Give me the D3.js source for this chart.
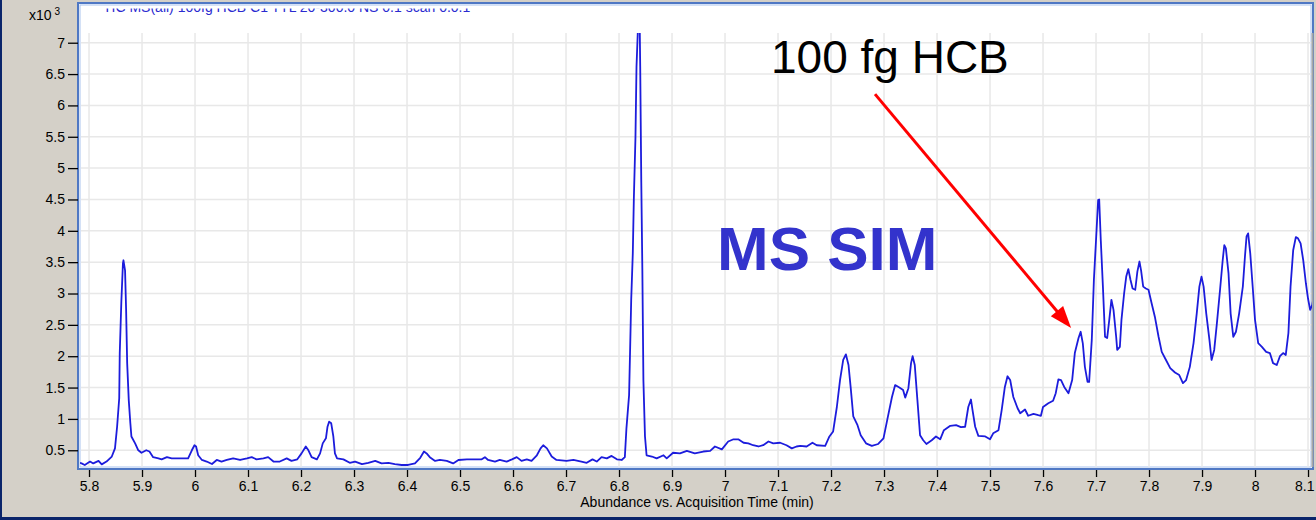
<!DOCTYPE html>
<html>
<head>
<meta charset="utf-8">
<script src="https://cdnjs.cloudflare.com/ajax/libs/d3/7.8.5/d3.min.js"></script>
<style>
	html, body { margin: 0; padding: 0; background: #d4d0c8; }
	svg { display: block; }
	.tick text { font-family: "Liberation Sans", Arial, sans-serif; font-size: 14px; fill: #000; }
</style>
</head>
<body>
<div id="visualization"></div>
<script>
// ==================================================
// GLOBALS
// ==================================================

// Tick Values
var xTicks = [5.8, 5.9, 6, 6.1, 6.2, 6.3, 6.4, 6.5, 6.6, 6.7, 6.8, 6.9, 7,
			  7.1, 7.2, 7.3, 7.4, 7.5, 7.6, 7.7, 7.8, 7.9, 8, 8.1];
var yTicks = [0.5, 1, 1.5, 2, 2.5, 3, 3.5, 4, 4.5, 5, 5.5, 6, 6.5, 7];

// Trace: Acquisition Time (min)
var retentionTime = [
	5.783, 5.786, 5.792, 5.802, 5.808, 5.818, 5.824, 5.833, 5.843, 5.849,
	5.853, 5.857, 5.858, 5.861, 5.864, 5.865, 5.868, 5.870, 5.872, 5.875,
	5.878, 5.880, 5.887, 5.893, 5.899, 5.908, 5.914, 5.921, 5.931, 5.937,
	5.947, 5.956, 5.972, 5.987, 5.994, 5.999, 6.002, 6.006, 6.013, 6.022,
	6.032, 6.041, 6.050, 6.060, 6.072, 6.085, 6.098, 6.107, 6.116, 6.129,
	6.138, 6.148, 6.160, 6.173, 6.182, 6.193, 6.201, 6.209, 6.214, 6.220,
	6.230, 6.236, 6.241, 6.247, 6.250, 6.253, 6.257, 6.261, 6.264, 6.268,
	6.280, 6.292, 6.302, 6.315, 6.327, 6.340, 6.352, 6.365, 6.377, 6.390,
	6.402, 6.415, 6.425, 6.432, 6.437, 6.443, 6.453, 6.462, 6.475, 6.487,
	6.497, 6.513, 6.541, 6.547, 6.553, 6.566, 6.575, 6.588, 6.598, 6.607,
	6.616, 6.626, 6.635, 6.645, 6.652, 6.657, 6.664, 6.673, 6.682, 6.701,
	6.714, 6.729, 6.739, 6.750, 6.758, 6.767, 6.777, 6.786, 6.796, 6.805,
	6.811, 6.814, 6.819, 6.821, 6.823, 6.826, 6.828, 6.831, 6.833, 6.836,
	6.839, 6.840, 6.842, 6.844, 6.846, 6.849, 6.852, 6.862, 6.871, 6.884,
	6.890, 6.902, 6.915, 6.928, 6.943, 6.959, 6.972, 6.981, 6.994, 7.006,
	7.016, 7.025, 7.035, 7.044, 7.053, 7.063, 7.072, 7.082, 7.091, 7.104,
	7.116, 7.126, 7.135, 7.142, 7.154, 7.165, 7.173, 7.189, 7.197, 7.204,
	7.211, 7.217, 7.223, 7.228, 7.233, 7.237, 7.242, 7.250, 7.256, 7.266,
	7.277, 7.289, 7.299, 7.306, 7.315, 7.321, 7.329, 7.336, 7.340, 7.346,
	7.351, 7.354, 7.358, 7.363, 7.368, 7.374, 7.380, 7.390, 7.398, 7.406,
	7.413, 7.425, 7.436, 7.445, 7.453, 7.459, 7.464, 7.467, 7.472, 7.478,
	7.491, 7.500, 7.506, 7.516, 7.522, 7.528, 7.533, 7.538, 7.544, 7.552,
	7.557, 7.566, 7.572, 7.582, 7.591, 7.596, 7.600, 7.610, 7.619, 7.624,
	7.629, 7.634, 7.640, 7.648, 7.655, 7.660, 7.667, 7.671, 7.675, 7.679,
	7.684, 7.687, 7.692, 7.696, 7.700, 7.704, 7.706, 7.709, 7.713, 7.717,
	7.721, 7.725, 7.729, 7.733, 7.738, 7.740, 7.745, 7.748, 7.753, 7.757,
	7.761, 7.765, 7.769, 7.774, 7.778, 7.782, 7.785, 7.789, 7.794, 7.799,
	7.805, 7.811, 7.818, 7.824, 7.832, 7.840, 7.849, 7.857, 7.864, 7.870,
	7.877, 7.884, 7.890, 7.895, 7.899, 7.903, 7.908, 7.914, 7.918, 7.923,
	7.928, 7.934, 7.939, 7.942, 7.945, 7.950, 7.954, 7.959, 7.964, 7.970,
	7.977, 7.981, 7.984, 7.987, 7.991, 7.996, 8.000, 8.006, 8.013, 8.021,
	8.028, 8.034, 8.041, 8.047, 8.053, 8.058, 8.063, 8.067, 8.072, 8.077,
	8.081, 8.086, 8.091, 8.096, 8.100, 8.104, 8.108, 8.110
];

// Trace: Abundance (x10^3)
var abundance = [
	0.30, 0.29, 0.265, 0.32, 0.29, 0.33, 0.275, 0.32, 0.40, 0.53,
	0.875, 1.33, 2.05, 2.87, 3.48, 3.53, 3.37, 2.74, 1.89, 1.30,
	0.93, 0.72, 0.61, 0.50, 0.46, 0.50, 0.48, 0.39, 0.37, 0.355,
	0.39, 0.37, 0.37, 0.37, 0.50, 0.58, 0.56, 0.42, 0.345, 0.32,
	0.28, 0.345, 0.32, 0.345, 0.37, 0.345, 0.37, 0.39, 0.355, 0.37,
	0.39, 0.32, 0.32, 0.37, 0.33, 0.355, 0.45, 0.56, 0.50, 0.39,
	0.355, 0.45, 0.61, 0.69, 0.875, 0.955, 0.93, 0.72, 0.45, 0.37,
	0.355, 0.30, 0.32, 0.28, 0.30, 0.33, 0.29, 0.30, 0.28, 0.265,
	0.265, 0.29, 0.38, 0.48, 0.45, 0.39, 0.33, 0.345, 0.33, 0.29,
	0.345, 0.355, 0.355, 0.39, 0.345, 0.32, 0.345, 0.32, 0.355, 0.39,
	0.33, 0.355, 0.33, 0.42, 0.53, 0.58, 0.53, 0.40, 0.345, 0.33,
	0.345, 0.32, 0.30, 0.355, 0.32, 0.39, 0.37, 0.41, 0.355, 0.345,
	0.39, 0.85, 1.38, 2.13, 2.90, 3.64, 4.52, 5.48, 6.62, 7.30,
	7.30, 6.62, 4.78, 3.40, 1.62, 0.72, 0.42, 0.40, 0.37, 0.42,
	0.37, 0.46, 0.45, 0.49, 0.45, 0.48, 0.49, 0.56, 0.515, 0.64,
	0.675, 0.675, 0.62, 0.61, 0.58, 0.56, 0.58, 0.64, 0.61, 0.62,
	0.58, 0.53, 0.56, 0.57, 0.56, 0.62, 0.58, 0.57, 0.72, 0.80,
	1.19, 1.62, 1.94, 2.03, 1.86, 1.51, 1.04, 0.90, 0.74, 0.61,
	0.57, 0.60, 0.69, 0.98, 1.35, 1.54, 1.50, 1.46, 1.34, 1.49,
	1.89, 2.00, 1.86, 1.30, 0.74, 0.66, 0.60, 0.66, 0.72, 0.675,
	0.82, 0.89, 0.90, 0.87, 0.875, 1.19, 1.31, 1.14, 0.875, 0.73,
	0.72, 0.675, 0.77, 0.82, 1.14, 1.51, 1.68, 1.62, 1.35, 1.17,
	1.09, 1.15, 1.05, 1.08, 1.06, 1.05, 1.19, 1.25, 1.29, 1.41,
	1.63, 1.62, 1.51, 1.41, 1.62, 2.05, 2.29, 2.39, 2.21, 1.83,
	1.59, 1.59, 2.26, 3.22, 3.85, 4.49, 4.50, 3.85, 3.11, 2.31,
	2.29, 2.58, 2.90, 2.74, 2.31, 2.10, 2.15, 2.58, 3.00, 3.27,
	3.39, 3.22, 3.08, 3.06, 3.35, 3.51, 3.37, 3.11, 3.08, 3.06,
	2.84, 2.63, 2.31, 2.07, 1.94, 1.81, 1.74, 1.70, 1.57, 1.62,
	1.83, 2.21, 2.68, 3.11, 3.27, 3.11, 2.68, 2.26, 1.94, 2.10,
	2.52, 3.06, 3.53, 3.77, 3.72, 3.32, 2.68, 2.31, 2.39, 2.68,
	3.11, 3.59, 3.91, 3.96, 3.64, 3.06, 2.58, 2.21, 2.15, 2.07,
	2.05, 1.89, 1.86, 2.00, 2.05, 2.02, 2.37, 3.11, 3.69, 3.90,
	3.88, 3.80, 3.53, 3.16, 2.92, 2.74, 2.82, 2.92
];

// Annotation Arrow (data coordinates)
var arrowFrom = [7.283, 6.18];
var arrowTo   = [7.653, 2.45];

// Canvas Dimensions
var width  = 1316;
var height = 520;
var plot   = { left: 80, right: 1312, top: 33, bottom: 467 };

var fontFamily = "'Liberation Sans', Arial, sans-serif";


// ==================================================
// CANVAS
// ==================================================

var canvas = d3.select("#visualization")
	.append("svg")
		.attr("width",  width)
		.attr("height", height);

// Window Background & Border
canvas.append("rect")
	.attr("width",  width)
	.attr("height", height)
	.attr("fill", "#d4d0c8");

canvas.append("rect")
	.attr("x", 0).attr("y", 0)
	.attr("width", 2).attr("height", height)
	.attr("fill", "#0a246a");

canvas.append("rect")
	.attr("x", 0).attr("y", height - 3)
	.attr("width", width).attr("height", 3)
	.attr("fill", "#0a246a");

// Plot Frame
canvas.append("rect")
	.attr("x", 78).attr("y", 3)
	.attr("width", plot.right - 78 + 1).attr("height", 466)
	.attr("fill", "#fff")
	.attr("stroke", "#4f78c4")
	.attr("stroke-width", 2);

canvas.append("rect")
	.attr("x", 80).attr("y", 5)
	.attr("width", plot.right - 80 - 1).attr("height", 462)
	.attr("fill", "none")
	.attr("stroke", "#a9c3ee")
	.attr("stroke-width", 1);


// ==================================================
// SCALES
// ==================================================

var x = d3.scaleLinear()
	.domain([5.783, 8.1075])
	.range([plot.left, plot.right]);

var y = d3.scaleLinear()
	.domain([0.233, 7.155])
	.range([plot.bottom, plot.top]);


// ==================================================
// GRID
// ==================================================

var grid = canvas.append("g").attr("class", "grid");

grid.selectAll(".vgrid")
	.data(xTicks)
	.enter()
	.append("line")
		.attr("class", "vgrid")
		.attr("x1", function(d) { return x(d); })
		.attr("x2", function(d) { return x(d); })
		.attr("y1", plot.top)
		.attr("y2", plot.bottom)
		.attr("stroke", "#e8e8e8")
		.attr("stroke-width", 1.5);

grid.selectAll(".hgrid")
	.data(yTicks)
	.enter()
	.append("line")
		.attr("class", "hgrid")
		.attr("x1", plot.left + 1)
		.attr("x2", plot.right)
		.attr("y1", function(d) { return y(d); })
		.attr("y2", function(d) { return y(d); })
		.attr("stroke", "#e8e8e8")
		.attr("stroke-width", 1.5);

// Right edge rule
canvas.append("line")
	.attr("x1", plot.right + 0.5).attr("x2", plot.right + 0.5)
	.attr("y1", plot.top).attr("y2", plot.bottom)
	.attr("stroke", "#a6a6a6")
	.attr("stroke-width", 2);


// ==================================================
// AXES
// ==================================================

var yAxisCall = d3.axisLeft(y)
	.tickValues(yTicks)
	.tickSize(10)
	.tickPadding(3)
	.tickFormat(d3.format(""));

var yAxis = canvas.append("g")
	.attr("class", "y axis")
	.attr("transform", "translate(78,0)")
	.call(yAxisCall);

var xAxisCall = d3.axisBottom(x)
	.tickValues(xTicks)
	.tickSize(7)
	.tickPadding(4)
	.tickFormat(d3.format(""));

var xAxis = canvas.append("g")
	.attr("class", "x axis")
	.attr("transform", "translate(0,470)")
	.call(xAxisCall);

canvas.selectAll(".axis .domain").remove();
canvas.selectAll(".axis .tick line")
	.attr("stroke", "#000")
	.attr("stroke-width", 1.3);

// Keep the last x label inside the window
xAxis.selectAll(".tick text")
	.filter(function(d) { return d === xTicks[xTicks.length - 1]; })
	.attr("text-anchor", "end")
	.attr("dx", "6");

// Axis Labels
var xLabel = canvas.append("text")
	.attr("x", 697)
	.attr("y", 507)
	.attr("text-anchor", "middle")
	.attr("font-family", fontFamily)
	.attr("font-size", "14px")
	.text("Abundance vs. Acquisition Time (min)");

var yLabel = canvas.append("text")
	.attr("x", 29)
	.attr("y", 20)
	.attr("font-family", fontFamily)
	.attr("font-size", "14px");

yLabel.append("tspan").text("x10");
yLabel.append("tspan")
	.attr("dx", 3)
	.attr("dy", -5)
	.attr("font-size", "10px")
	.text("3");

// Trace title (clipped by frame)
canvas.append("clipPath")
	.attr("id", "title-clip")
	.append("rect")
		.attr("x", plot.left).attr("y", 8.5)
		.attr("width", plot.right - plot.left).attr("height", 20);

canvas.append("text")
	.attr("clip-path", "url(#title-clip)")
	.attr("x", 103)
	.attr("y", 12)
	.attr("font-family", fontFamily)
	.attr("font-size", "14px")
	.attr("fill", "#2a2ad0")
	.text("TIC MS(all) 100fg HCB C1 TTL 20-300.0 NS 0.1 scan 0.0.1");


// ==================================================
// TRACE
// ==================================================

canvas.append("clipPath")
	.attr("id", "plot-clip")
	.append("rect")
		.attr("x", plot.left).attr("y", plot.top)
		.attr("width", plot.right - plot.left).attr("height", plot.bottom - plot.top);

var trace = d3.zip(retentionTime, abundance);

var line = d3.line()
	.x(function(d) { return x(d[0]); })
	.y(function(d) { return y(d[1]); });

canvas.append("path")
	.datum(trace)
	.attr("clip-path", "url(#plot-clip)")
	.attr("fill", "none")
	.attr("stroke", "#1c1cdc")
	.attr("stroke-width", 1.8)
	.attr("stroke-linejoin", "round")
	.attr("d", line);


// ==================================================
// ANNOTATIONS
// ==================================================

canvas.append("text")
	.attr("x", 771)
	.attr("y", 73)
	.attr("font-family", fontFamily)
	.attr("font-size", "46px")
	.attr("fill", "#000")
	.text("100 fg HCB");

canvas.append("text")
	.attr("x", 717)
	.attr("y", 270)
	.attr("font-family", fontFamily)
	.attr("font-size", "62px")
	.attr("font-weight", "bold")
	.attr("fill", "#3333cc")
	.text("MS SIM");

// Red Arrow
var ax0 = x(arrowFrom[0]), ay0 = y(arrowFrom[1]);
var ax1 = x(arrowTo[0]),   ay1 = y(arrowTo[1]);
var len = Math.sqrt((ax1 - ax0) * (ax1 - ax0) + (ay1 - ay0) * (ay1 - ay0));
var ux  = (ax1 - ax0) / len, uy = (ay1 - ay0) / len;
var headLen = 22, headHalf = 8;
var bx  = ax1 - ux * headLen, by = ay1 - uy * headLen;

canvas.append("line")
	.attr("x1", ax0).attr("y1", ay0)
	.attr("x2", bx + ux * 2).attr("y2", by + uy * 2)
	.attr("stroke", "#ff0000")
	.attr("stroke-width", 3);

canvas.append("polygon")
	.attr("points", [
		[ax1, ay1],
		[bx - uy * headHalf, by + ux * headHalf],
		[bx + uy * headHalf, by - ux * headHalf]
	].map(function(p) { return p.join(","); }).join(" "))
	.attr("fill", "#ff0000");
</script>
</body>
</html>
